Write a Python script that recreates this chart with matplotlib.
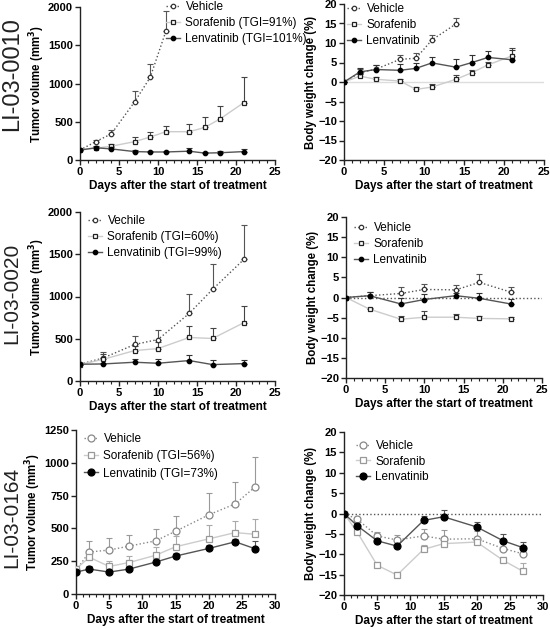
import numpy as np
import matplotlib
matplotlib.use('Agg')
import matplotlib.pyplot as plt
from matplotlib.ticker import MultipleLocator

plt.rcParams['font.family'] = ['Liberation Sans', 'DejaVu Sans']

# ---- LI-03-0010 ----
days_veh_10 = [0, 2, 4, 7, 9, 11]
days_veh_bw_10 = [0, 2, 4, 7, 9, 11, 14]
days_trt_10 = [0, 2, 4, 7, 9, 11, 14, 16, 18, 21]
tv_veh_10 = [130, 240, 340, 760, 1080, 1680]
tv_veh_10_err = [0, 20, 50, 140, 170, 270]
tv_sor_10 = [130, 155, 180, 240, 300, 370, 370, 425, 540, 750]
tv_sor_10_err = [0, 20, 30, 60, 70, 80, 95, 140, 170, 330]
tv_len_10 = [130, 160, 145, 110, 105, 105, 115, 90, 95, 110]
tv_len_10_err = [0, 25, 30, 15, 15, 15, 40, 20, 20, 40]
bw_veh_10 = [0, 2.4, 3.3, 5.8, 6.1, 10.8, 14.9]
bw_veh_10_err = [0, 1, 1, 1, 1.3, 1.2, 1.4]
bw_sor_10 = [0, 1.5, 0.7, 0.25, -1.9, -1.3, 0.7, 2.4, 4.4, 6.7]
bw_sor_10_err = [0, 0.6, 0.5, 0.5, 0.5, 0.8, 1.2, 0.8, 0.8, 2.0]
bw_len_10 = [0, 2.6, 3.2, 3.0, 3.5, 4.9, 3.8, 5.0, 6.3, 5.7]
bw_len_10_err = [0, 1.1, 1.1, 1.7, 1.3, 1.5, 2, 2, 1.6, 2.5]

# ---- LI-03-0020 ----
days_20 = [0, 3, 7, 10, 14, 17, 21]
tv_veh_20 = [198, 273, 432, 491, 800, 1085, 1438]
tv_veh_20_err = [20, 70, 105, 110, 225, 300, 405]
tv_sor_20 = [195, 257, 360, 384, 515, 503, 690]
tv_sor_20_err = [20, 65, 60, 80, 140, 130, 200]
tv_len_20 = [198, 202, 222, 210, 242, 194, 206]
tv_len_20_err = [20, 15, 35, 48, 60, 50, 48]
bw_veh_20 = [0, 0.45, 1.0, 2.0, 1.9, 3.75, 1.36]
bw_veh_20_err = [0, 0.8, 1.5, 1.3, 1.2, 2.2, 1.3]
bw_sor_20 = [0, -2.9, -5.4, -4.9, -4.9, -5.2, -5.3]
bw_sor_20_err = [0, 0.4, 0.9, 1.6, 0.7, 0.5, 0.5]
bw_len_20 = [0, 0.45, -1.6, -0.5, 0.45, -0.2, -1.6]
bw_len_20_err = [0, 0.8, 1.5, 1.3, 0.6, 1.3, 1.2]

# ---- LI-03-0164 ----
days_164 = [0, 2, 5, 8, 12, 15, 20, 24, 27]
tv_veh_164 = [180, 320, 335, 365, 405, 478, 603, 687, 816]
tv_veh_164_err = [20, 85, 90, 88, 90, 120, 165, 170, 230]
tv_sor_164 = [190, 280, 210, 240, 295, 360, 420, 468, 455]
tv_sor_164_err = [20, 45, 45, 50, 60, 80, 105, 90, 115]
tv_len_164 = [167, 190, 167, 190, 243, 289, 347, 398, 345]
tv_len_164_err = [15, 20, 20, 20, 25, 25, 25, 25, 60]
bw_veh_164 = [0, -1.4, -5.5, -6.5, -5.5, -6.3, -6.2, -8.6, -9.9]
bw_veh_164_err = [0, 0.5, 0.9, 1.2, 1.6, 2.3, 2, 1.3, 1.4]
bw_sor_164 = [0, -4.6, -12.7, -15.1, -8.8, -7.4, -7.0, -11.5, -14.2]
bw_sor_164_err = [0, 0.5, 0.9, 0.8, 1.1, 1.1, 1.0, 0.9, 2.0]
bw_len_164 = [0, -3.0, -6.7, -8.0, -1.7, -0.8, -3.3, -6.7, -8.4]
bw_len_164_err = [0, 0.8, 0.8, 0.9, 1.2, 1.6, 1.3, 1.7, 1.4]

row_labels = ['LI-03-0010', 'LI-03-0020', 'LI-03-0164']
xlabel = 'Days after the start of treatment'

W, H = 550, 629
fig = plt.figure(figsize=(W / 100, H / 100), dpi=100)


def add_axes_px(left, top, right, bottom):
    return fig.add_axes([left / W, 1 - bottom / H, (right - left) / W, (bottom - top) / H])


# styles for the first two rows (small markers) and the last row (bigger, gray)
style_small = {
    'veh': dict(ls=':', color='#555555', marker='o', mfc='white', mec='#333333', ms=3.2, ecolor='#555555'),
    'sor': dict(ls='-', color='#cccccc', marker='s', mfc='white', mec='#222222', ms=3.2, ecolor='#444444'),
    'len': dict(ls='-', color='#555555', marker='o', mfc='black', mec='black', ms=3.2, ecolor='#333333'),
}
style_big = {
    'veh': dict(ls=':', color='#888888', marker='o', mfc='white', mec='#888888', ms=5, ecolor='#999999'),
    'sor': dict(ls='-', color='#cccccc', marker='s', mfc='white', mec='#999999', ms=5, ecolor='#aaaaaa'),
    'len': dict(ls='-', color='#555555', marker='o', mfc='black', mec='black', ms=5, ecolor='#555555'),
}


def draw_series(ax, x, y, err, st, label):
    err = np.asarray(err, dtype=float)
    ax.errorbar(x, y, yerr=[np.zeros_like(err), err], fmt='none', ecolor=st['ecolor'],
                elinewidth=0.8, capsize=2, capthick=0.8, zorder=2)
    ax.plot(x, y, ls=st['ls'], color=st['color'], lw=1.0, marker=st['marker'],
            mfc=st['mfc'], mec=st['mec'], mew=0.9, ms=st['ms'], label=label, zorder=3)


def style_axes(ax, xmax, ylim, ymajor, ylabel):
    ax.set_xlim(0, xmax)
    ax.set_ylim(*ylim)
    ax.xaxis.set_major_locator(MultipleLocator(5))
    ax.xaxis.set_minor_locator(MultipleLocator(1))
    ax.yaxis.set_major_locator(MultipleLocator(ymajor))
    for s in ['top', 'right']:
        ax.spines[s].set_visible(False)
    for s in ['left', 'bottom']:
        ax.spines[s].set_linewidth(1.0)
        ax.spines[s].set_color('#222222')
    ax.tick_params(which='major', length=3.5, width=1.0, labelsize=8, pad=1.5, color='#222222')
    ax.tick_params(which='minor', length=2, width=0.8, color='#222222')
    for lab in ax.get_xticklabels() + ax.get_yticklabels():
        lab.set_fontweight('bold')
    ax.set_xlabel(xlabel, fontsize=8.5, fontweight='bold', labelpad=2)
    ax.set_ylabel(ylabel, fontsize=8.3, fontweight='bold', labelpad=1)


def add_legend(ax, x_px, y_px, spacing=0.35):
    ax.legend(loc='upper left', bbox_to_anchor=(x_px / W, 1 - y_px / H),
              bbox_transform=fig.transFigure, frameon=False, fontsize=8.5,
              handlelength=1.2, handletextpad=0.45, labelspacing=spacing,
              borderpad=0, borderaxespad=0)


tv_label = 'Tumor volume (mm$^\\mathbf{3}$)'
bw_label = 'Body weight change (%)'

# ---- row 1 ----
ax = add_axes_px(80, 7, 275, 160)
draw_series(ax, days_veh_10, tv_veh_10, tv_veh_10_err, style_small['veh'], 'Vehicle')
draw_series(ax, days_trt_10, tv_sor_10, tv_sor_10_err, style_small['sor'], 'Sorafenib (TGI=91%)')
draw_series(ax, days_trt_10, tv_len_10, tv_len_10_err, style_small['len'], 'Lenvatinib (TGI=101%)')
style_axes(ax, 25, (0, 2000), 500, tv_label)
add_legend(ax, 166, 1)

ax = add_axes_px(344, 4, 544, 160)
ax.axhline(0, color='#dddddd', lw=1.0, zorder=1)
draw_series(ax, days_veh_bw_10, bw_veh_10, bw_veh_10_err, style_small['veh'], 'Vehicle')
draw_series(ax, days_trt_10, bw_sor_10, bw_sor_10_err, style_small['sor'], 'Sorafenib')
draw_series(ax, days_trt_10, bw_len_10, bw_len_10_err, style_small['len'], 'Lenvatinib')
style_axes(ax, 25, (-20, 20), 5, bw_label)
add_legend(ax, 347, 3)

# ---- row 2 ----
ax = add_axes_px(80, 212, 275, 381)
draw_series(ax, days_20, tv_veh_20, tv_veh_20_err, style_small['veh'], 'Vechile')
draw_series(ax, days_20, tv_sor_20, tv_sor_20_err, style_small['sor'], 'Sorafenib (TGI=60%)')
draw_series(ax, days_20, tv_len_20, tv_len_20_err, style_small['len'], 'Lenvatinib (TGI=99%)')
style_axes(ax, 25, (0, 2000), 500, tv_label)
add_legend(ax, 88, 215)

ax = add_axes_px(346, 217, 542, 378)
ax.axhline(0, color='#555555', lw=1.0, ls=':', zorder=1)
draw_series(ax, days_20, bw_veh_20, bw_veh_20_err, style_small['veh'], 'Vehicle')
draw_series(ax, days_20, bw_sor_20, bw_sor_20_err, style_small['sor'], 'Sorafenib')
draw_series(ax, days_20, bw_len_20, bw_len_20_err, style_small['len'], 'Lenvatinib')
style_axes(ax, 25, (-20, 20), 5, bw_label)
add_legend(ax, 354, 222)

# ---- row 3 ----
ax = add_axes_px(76, 430, 275, 594)
draw_series(ax, days_164, tv_veh_164, tv_veh_164_err, style_big['veh'], 'Vehicle')
draw_series(ax, days_164, tv_sor_164, tv_sor_164_err, style_big['sor'], 'Sorafenib (TGI=56%)')
draw_series(ax, days_164, tv_len_164, tv_len_164_err, style_big['len'], 'Lenvatinib (TGI=73%)')
style_axes(ax, 30, (0, 1250), 250, tv_label)
add_legend(ax, 84, 433, spacing=0.45)

ax = add_axes_px(344, 432, 543, 595)
ax.axhline(0, color='#555555', lw=1.0, ls=':', zorder=1)
draw_series(ax, days_164, bw_veh_164, bw_veh_164_err, style_big['veh'], 'Vehicle')
draw_series(ax, days_164, bw_sor_164, bw_sor_164_err, style_big['sor'], 'Sorafenib')
draw_series(ax, days_164, bw_len_164, bw_len_164_err, style_big['len'], 'Lenvatinib')
style_axes(ax, 30, (-20, 20), 5, bw_label)
add_legend(ax, 356, 440, spacing=0.3)

# row labels on the far left
for label, yc, fs in zip(row_labels, [74, 293, 517], [17, 15, 15]):
    fig.text(12 / W, 1 - yc / H, label, rotation=90, fontsize=fs,
             ha='center', va='center', color='#222222')

fig.savefig('out.png', dpi=100)
